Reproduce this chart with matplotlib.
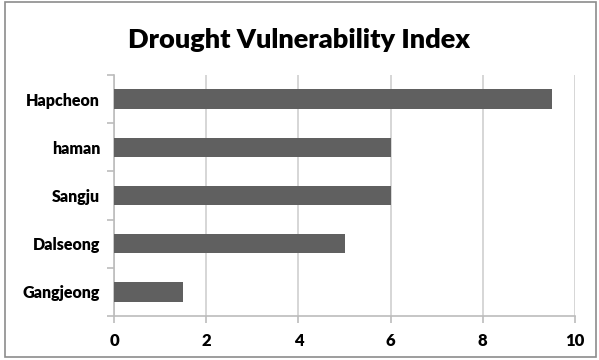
import numpy as np
import matplotlib.pyplot as plt
from matplotlib.patches import Rectangle

# data
regions = ['Gangjeong', 'Dalseong', 'Sangju', 'haman', 'Hapcheon']
index_values = [1.5, 5, 6, 6, 9.5]
xticks = [0, 2, 4, 6, 8, 10]

plt.rcParams['font.family'] = ['Lato', 'DejaVu Sans']

fig = plt.figure(figsize=(5.99, 3.6), dpi=100)
ax = fig.add_axes([114/599, 1 - 316/360, 461/599, 241/360])

y = np.arange(len(regions))
ax.barh(y, index_values, height=0.4, color='#606060', zorder=3)

ax.set_xlim(0, 10)
ax.set_ylim(-0.5, len(regions) - 0.5)
ax.set_xticks(xticks)
ax.set_xticklabels([str(t) for t in xticks], fontsize=12, fontweight='heavy')
ax.set_yticks(y)
ax.set_yticklabels(regions, fontsize=11.5, fontweight='heavy')
ax.set_yticks(np.arange(-0.5, len(regions)), minor=True)

ax.grid(axis='x', color='#d0d0d0', linewidth=1.2, zorder=0)
for s in ['top', 'right']:
    ax.spines[s].set_visible(False)
for s in ['left', 'bottom']:
    ax.spines[s].set_color('#bcbcbc')
    ax.spines[s].set_linewidth(1.2)

ax.tick_params(axis='y', which='major', length=0, pad=10)
ax.tick_params(axis='y', which='minor', length=5, color='#bcbcbc', width=1.2)
ax.tick_params(axis='x', length=5, color='#bcbcbc', width=1.2, pad=7, direction='out')

fig.text(0.5, 1 - 40/360, 'Drought Vulnerability Index', ha='center', va='center',
         fontsize=19.5, fontweight='heavy')

fig.patches.append(Rectangle((5/599, 1 - 357/360), 591/599, 355/360,
                             transform=fig.transFigure, fill=False,
                             edgecolor='#8c8c8c', linewidth=1.2))

fig.savefig('out.png', dpi=100)
